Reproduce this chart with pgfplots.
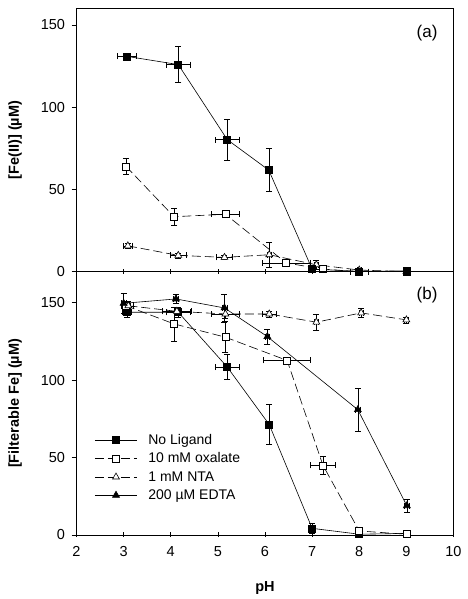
\documentclass[border=0pt]{standalone}
\usepackage{fontspec}
\setmainfont{Liberation Sans}
\usepackage{pgfplots}
\pgfplotsset{compat=1.18}
\usepackage{pgfplotstable}

% top panel (a): x y ex ey
\pgfplotstableread{
x y ex ey
3.07 130.8 0.20 1.5
4.16 125.8 0.25 11
5.20 80.2 0.25 12.5
6.08 61.7 0.05 13
7.00 1.6 0.05 1.5
8.00 0.2 0.05 0.5
9.00 0.5 0.05 0.5
}\aNoLig
\pgfplotstableread{
x y ex ey
3.05 64.0 0.05 5
4.07 33.4 0.05 5.2
5.16 34.9 0.30 1.5
6.45 5.3 0.50 1.5
7.22 1.6 0.05 1
8.00 0.0 0.20 0.5
9.00 0.0 0.05 0.3
}\aOx
\pgfplotstableread{
x y ex ey
3.09 15.7 0.10 1.5
4.16 9.9 0.17 1.5
5.14 8.7 0.17 1
6.09 10.3 0.05 7.5
7.09 4.2 0.05 3
8.00 1.0 0.05 0.5
9.00 0.0 0.05 0.3
}\aNTA

% bottom panel (b)
\pgfplotstableread{
x y ex ey
3.07 143.8 0.10 3
4.16 143.8 0.25 3
5.20 108.4 0.25 8
6.09 71.3 0.05 13
7.00 4.3 0.05 3
8.00 0.5 0.05 0.5
9.00 1.0 0.05 0.5
}\bNoLig
\pgfplotstableread{
x y ex ey
3.05 148.0 0.10 3
4.07 136.3 0.05 11
5.16 127.7 0.05 10
6.47 112.7 0.50 1.5
7.23 45.0 0.26 6
8.00 2.6 0.05 1
9.00 0.5 0.05 0.5
}\bOx
\pgfplotstableread{
x y ex ey
3.10 148.0 0.10 3
4.13 144.4 0.30 2
5.16 142.7 0.30 3
6.09 142.7 0.15 2
7.09 137.4 0.05 5
8.04 143.4 0.05 3
9.00 138.9 0.05 2
}\bNTA
\pgfplotstableread{
x y ex ey
3.00 149.6 0.05 6.5
4.11 152.4 0.05 3
5.14 146.6 0.05 9
6.05 128.1 0.05 5
7.97 80.9 0.05 14
9.01 18.9 0.05 4
}\bEDTA

\pgfplotsset{
  myax/.style={
    scale only axis, width=377pt,
    xmin=2, xmax=10, xtick={2,...,10},
    clip=false,
    axis line style={black, line width=0.5pt},
    tick style={black, line width=0.5pt},
    tick align=outside, major tick length=5pt,
    x tick style={yshift=3pt},
    xtick pos=bottom, ytick pos=left,
    ytick={0,50,100,150},
    ticklabel style={font=\fontsize{14.5}{16}\selectfont},
    xticklabel style={yshift=-3pt},
    yticklabel style={xshift=-3pt},
    /pgf/number format/assume math mode=true,
    label style={font=\fontsize{14.5}{16}\selectfont\bfseries},
    ylabel style={at={(axis description cs:-0.163,0.5)}, anchor=center},
  },
  eb/.style={error bars/.cd, x dir=both, x explicit, y dir=both, y explicit,
    error bar style={line width=0.5pt, black, solid},
    error mark options={rotate=90, mark size=3pt, line width=0.5pt, black, solid}},
  noLig/.style={draw=black, line width=0.6pt, solid, mark=square*, mark size=3.5pt, mark options={solid, draw=black, fill=black}},
  ox/.style={draw=black, line width=0.6pt, dash pattern=on 9pt off 4pt, mark=square*, mark size=3.5pt, mark options={solid, draw=black, fill=white}},
  nta/.style={draw=black, line width=0.6pt, dash pattern=on 9pt off 4pt, mark=triangle*, mark size=4pt, mark options={solid, draw=black, fill=white}},
  edta/.style={draw=black, line width=0.6pt, solid, mark=triangle*, mark size=4pt, mark options={solid, draw=black, fill=black}},
}

\begin{document}
\begin{tikzpicture}
\useasboundingbox (0,0) rectangle (467pt,599pt);

% top panel
\begin{axis}[myax,
  at={(76.5pt,327.3pt)}, anchor=south west, height=263.4pt,
  ymin=0, ymax=160,
  xticklabels={},
  ylabel={[Fe(II)] (µM)},
]
\addplot[ox, eb] table[x=x, y=y, x error=ex, y error=ey] {\aOx};
\addplot[nta, eb] table[x=x, y=y, x error=ex, y error=ey] {\aNTA};
\addplot[noLig, eb] table[x=x, y=y, x error=ex, y error=ey] {\aNoLig};
\node[anchor=center, font=\fontsize{17}{19}\selectfont] at (rel axis cs:0.93,0.905) {(a)};
\end{axis}

% bottom panel
\begin{axis}[myax,
  at={(76.5pt,64pt)}, anchor=south west, height=263.3pt,
  ymin=0, ymax=170,
  xlabel={pH},
  ylabel={[Filterable Fe] (µM)},
  xlabel style={at={(axis description cs:0.5,-0.2)}, anchor=center},
  legend style={draw=none, fill=none, at={(rel axis cs:0.045,0.395)}, anchor=north west,
    font=\fontsize{14}{16}\selectfont, row sep=3pt, inner sep=1pt,
    /tikz/every odd column/.append style={column sep=9pt}},
  legend cell align=left,
  legend image code/.code={\draw[mark repeat=2, mark phase=2] plot coordinates {(0cm,0cm) (0.74cm,0cm) (1.48cm,0cm)};},
]
\addplot[noLig, eb] table[x=x, y=y, x error=ex, y error=ey] {\bNoLig};
\addlegendentry{No Ligand}
\addplot[ox, eb] table[x=x, y=y, x error=ex, y error=ey] {\bOx};
\addlegendentry{10 mM oxalate}
\addplot[nta, eb] table[x=x, y=y, x error=ex, y error=ey] {\bNTA};
\addlegendentry{1 mM NTA}
\addplot[edta, eb] table[x=x, y=y, x error=ex, y error=ey] {\bEDTA};
\addlegendentry{200 µM EDTA}
\node[anchor=center, font=\fontsize{17}{19}\selectfont] at (rel axis cs:0.93,0.91) {(b)};
\end{axis}
\end{tikzpicture}
\end{document}
